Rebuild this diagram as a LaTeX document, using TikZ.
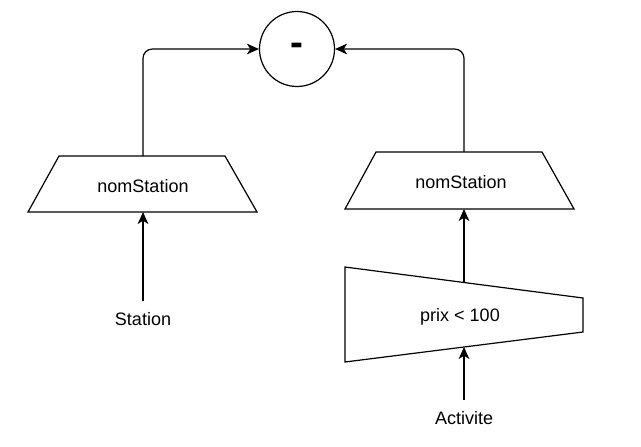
\documentclass[tikz,border=0pt]{standalone}
\usepackage{fontspec}
\setmainfont{Liberation Sans}
\usetikzlibrary{arrows.meta}

\begin{document}
\begin{tikzpicture}[x=0.75pt,y=-0.75pt,line width=0.9pt,
    every node/.style={font=\fontsize{13.5}{16}\selectfont},
    flow/.style={-{Stealth[length=9pt,width=8pt,inset=2.5pt]}},
    opcircle/.style={draw,circle,minimum size=56.25pt,inner sep=0pt}]
    \useasboundingbox (0,0) rectangle (641,446);
    \node[opcircle] (diff) at (297,49) {\fontsize{29}{30}\selectfont\bfseries -};

    % projection on Station
    \coordinate (Lbl) at (28,212);
    \coordinate (Ltl) at (59,156);
    \coordinate (Ltr) at (225,156);
    \coordinate (Lbr) at (257,212);
    \draw (Lbl) -- (Ltl) -- (Ltr) -- (Lbr) -- cycle;
    \coordinate (Ltop) at (143,156);
    \coordinate (Lbot) at (143,212);
    \node (nomL) at (143,186) {nomStation};
    \node (station) at (143,319) {Station};

    % projection on the selection
    \coordinate (Rbl) at (345,209);
    \coordinate (Rtl) at (376,152);
    \coordinate (Rtr) at (542,152);
    \coordinate (Rbr) at (574,209);
    \draw (Rbl) -- (Rtl) -- (Rtr) -- (Rbr) -- cycle;
    \coordinate (Rtop) at (464,152);
    \coordinate (Rbot) at (464,209);
    \node (nomR) at (461,182) {nomStation};

    % selection
    \coordinate (Stl) at (345,267);
    \coordinate (Str) at (583,298);
    \coordinate (Sbr) at (583,332);
    \coordinate (Sbl) at (345,362);
    \draw (Stl) -- (Str) -- (Sbr) -- (Sbl) -- cycle;
    \coordinate (Stop) at (464,282.5);
    \coordinate (Sbot) at (464,347);
    \node (prix) at (460,317) {prix < 100};
    \node (activite) at (464,418) {Activite};

    \draw[flow] (station.north) ++(0,-6) -- (Lbot);
    \draw[flow] (activite.north) ++(0,-6) -- (Sbot);
    \draw[flow] (Stop) -- (Rbot);
    \draw[flow,rounded corners=7pt] (Ltop) |- (diff);
    \draw[flow,rounded corners=7pt] (Rtop) |- (diff);
\end{tikzpicture}
\end{document}
